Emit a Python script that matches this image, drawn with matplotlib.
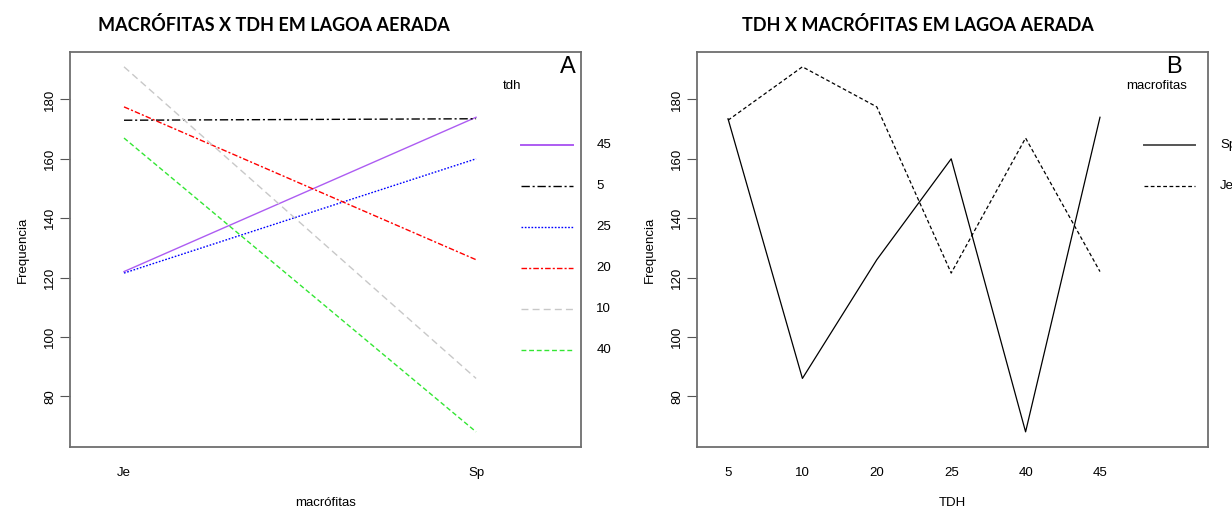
import numpy as np
import matplotlib.pyplot as plt

# TDH levels and mean frequency for each macrophyte
tdh = ['5', '10', '20', '25', '40', '45']
je = [173, 191, 177.5, 121.5, 167, 122]
sp = [173.5, 86, 126, 160, 68, 174]
macrofitas = ['Je', 'Sp']

# line style for every TDH level (colour, dash pattern)
estilos = {
    '45': ('#ad5cf2', '-'),
    '5': ('black', (0, (6, 2, 1.5, 2))),
    '25': ('blue', (0, (1.2, 1.2))),
    '20': ('red', (0, (4, 1.5, 1.5, 1.5))),
    '10': ('#c8c8c8', (0, (5, 3))),
    '40': ('#33e633', (0, (3.5, 2))),
}

plt.rcParams['font.family'] = ['Liberation Sans', 'DejaVu Sans']
fs = 9.5

fig = plt.figure(figsize=(12.32, 5.11), dpi=100)
ax1 = fig.add_axes([70 / 1232, 0.1247, 511 / 1232, 0.773])
ax2 = fig.add_axes([697 / 1232, 0.1247, 511 / 1232, 0.773])

for ax in (ax1, ax2):
    ax.set_ylim(62.8, 195.9)
    ax.set_yticks([80, 100, 120, 140, 160, 180])
    ax.tick_params(axis='y', labelrotation=90, length=7, width=0.8,
                   labelsize=fs, pad=3, color='#555555')
    for lab in ax.get_yticklabels():
        lab.set_va('center')
    ax.tick_params(axis='x', length=0, labelsize=fs, pad=14.5)
    for s in ax.spines.values():
        s.set_color('#6e6e6e')
        s.set_linewidth(1.3)
    ax.set_ylabel('Frequencia', fontsize=fs, labelpad=11)

# ---- painel A: uma linha por TDH entre Je e Sp
x_mac = np.arange(1, len(macrofitas) + 1)
ordem = np.argsort(sp)[::-1]
for k, i in enumerate(ordem):
    nivel = tdh[i]
    cor, ls = estilos[nivel]
    ax1.plot(x_mac, [je[i], sp[i]], color=cor, linestyle=ls, linewidth=1.0)
    yl = 0.765 - k * 0.1036
    ax1.plot([0.8826, 0.9837], [yl, yl], color=cor, linestyle=ls,
             linewidth=1.4 if ls == '-' else 1.0,
             transform=ax1.transAxes, clip_on=False)
    ax1.text(1.03, yl, nivel, transform=ax1.transAxes, fontsize=fs,
             va='center', ha='left')
ax1.set_xlim(0.8466, 2.298)
ax1.set_xticks(x_mac)
ax1.set_xticklabels(macrofitas)
ax1.set_xlabel('macrófitas', fontsize=fs, labelpad=13)
ax1.text(0.866, 0.915, 'tdh', transform=ax1.transAxes, fontsize=fs,
         ha='center', va='center')
ax1.text(0.974, 0.963, 'A', transform=ax1.transAxes, fontsize=17,
         ha='center', va='center')

# ---- painel B: uma linha por macrófita ao longo do TDH
x_tdh = np.arange(1, len(tdh) + 1)
ax2.plot(x_tdh, sp, color='black', linestyle='-', linewidth=0.9)
ax2.plot(x_tdh, je, color='black', linestyle=(0, (3, 2)), linewidth=0.9)
for k, (nome, ls) in enumerate([('Sp', '-'), ('Je', (0, (3, 2)))]):
    yl = 0.765 - k * 0.1036
    ax2.plot([0.875, 0.9746], [yl, yl], color='#555555' if ls == '-' else 'black',
             linestyle=ls, linewidth=1.4 if ls == '-' else 0.9,
             transform=ax2.transAxes, clip_on=False)
    ax2.text(1.0235, yl, nome, transform=ax2.transAxes, fontsize=fs,
             va='center', ha='left')
ax2.set_xlim(0.583, 7.452)
ax2.set_xticks(x_tdh)
ax2.set_xticklabels(tdh)
ax2.set_xlabel('TDH', fontsize=fs, labelpad=13)
ax2.text(0.900, 0.915, 'macrofitas', transform=ax2.transAxes, fontsize=fs,
         ha='center', va='center')
ax2.text(0.9335, 0.963, 'B', transform=ax2.transAxes, fontsize=17,
         ha='center', va='center')

# títulos
fig.text(273.5 / 1232, 1 - 25 / 511, 'MACRÓFITAS X TDH EM LAGOA AERADA',
         family=['Lato', 'DejaVu Sans'], weight='bold', fontsize=13,
         ha='center', va='center')
fig.text(918 / 1232, 1 - 25 / 511, 'TDH X MACRÓFITAS EM LAGOA AERADA',
         family=['Lato', 'DejaVu Sans'], weight='bold', fontsize=13,
         ha='center', va='center')

fig.savefig('out.png', dpi=100)
